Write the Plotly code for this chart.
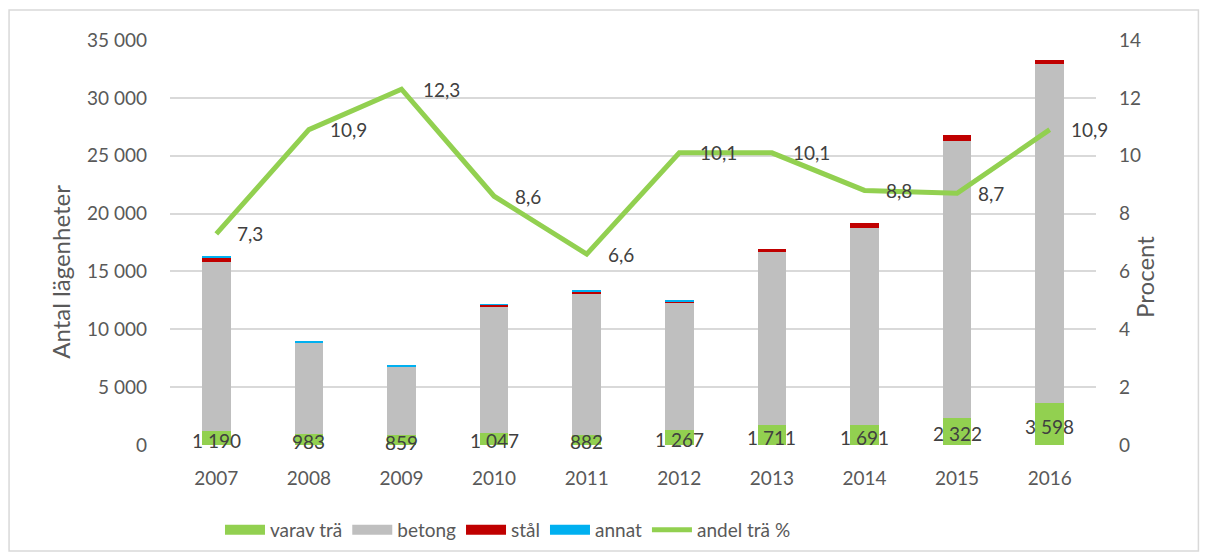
import plotly.graph_objects as go

years = [2007, 2008, 2009, 2010, 2011, 2012, 2013, 2014, 2015, 2016]
varav_tra = [1190, 983, 859, 1047, 882, 1267, 1711, 1691, 2322, 3598]
betong = [14660, 7890, 5950, 10950, 12220, 11020, 14930, 17030, 23970, 29330]
stal = [390, 0, 0, 110, 150, 110, 290, 500, 490, 320]
annat = [135, 110, 120, 20, 140, 120, 0, 0, 0, 0]
andel_tra = [7.3, 10.9, 12.3, 8.6, 6.6, 10.1, 10.1, 8.8, 8.7, 10.9]

FONT = "Lato, 'Open Sans', sans-serif"
TXT = "#595959"
LBL = "#404040"

bar_series = [
    ("varav trä", varav_tra, "#92d050"),
    ("betong", betong, "#bfbfbf"),
    ("stål", stal, "#c00000"),
    ("annat", annat, "#00b0f0"),
]

fig = go.Figure()
for name, vals, color in bar_series:
    fig.add_trace(go.Bar(x=years, y=vals, name=name, legendgroup=name, showlegend=False,
                         marker={"color": color, "line": {"width": 0}}, hoverinfo="y+name"))

# legend entries drawn as wide blocks, like the original
for name, _, color in bar_series:
    fig.add_trace(go.Scatter(x=[None], y=[None], mode="lines", name=name, legendgroup=name,
                             line={"color": color, "width": 14}))

fig.add_trace(
    go.Scatter(
        x=years,
        y=andel_tra,
        yaxis="y2",
        mode="lines",
        name="andel trä %",
        line={"color": "#92d050", "width": 5},
    )
)

# data labels for the wood segment
for yr, v in zip(years, varav_tra):
    fig.add_annotation(
        x=yr, y=v / 2, text=f"{v:,}".replace(",", " "), showarrow=False,
        yshift=-2, font={"size": 19, "color": LBL, "family": FONT},
    )

# data labels for the share line
for yr, v in zip(years, andel_tra):
    fig.add_annotation(
        x=yr, y=v, yref="y2", text=f"{v:.1f}".replace(".", ","), showarrow=False,
        xanchor="left", yanchor="middle", xshift=19,
        font={"size": 19, "color": LBL, "family": FONT},
    )

# axis titles, centred on the chart area like the original
fig.add_annotation(xref="paper", yref="paper", x=-0.137, y=0.427, text="Antal lägenheter", textangle=-90,
                   showarrow=False, font={"size": 24, "color": TXT, "family": FONT})
fig.add_annotation(xref="paper", yref="paper", x=1.0707, y=0.415, text="Procent", textangle=-90,
                   showarrow=False, font={"size": 24, "color": TXT, "family": FONT})

# outer chart border
fig.add_shape(type="rect", xref="paper", yref="paper", x0=-0.1738, x1=1.1106, y0=-0.2617, y1=1.074,
              line={"color": "#d9d9d9", "width": 1.5}, layer="below")

fig.update_layout(
    width=1192,
    height=544,
    barmode="stack",
    bargap=0.69,
    separators=", ",
    plot_bgcolor="white",
    paper_bgcolor="white",
    font={"family": FONT, "size": 19, "color": TXT},
    margin={"l": 162, "r": 104, "t": 32, "b": 107, "autoexpand": False},
    xaxis={"range": [years[0] - 0.5, years[-1] + 0.5], "tickvals": years, "ticktext": [str(y) for y in years],
           "showgrid": False, "ticks": "", "showline": False, "zeroline": False, "ticklabelstandoff": 20,
           "tickfont": {"size": 19, "color": TXT}},
    yaxis={"range": [0, 35000], "dtick": 5000, "tickformat": ",d", "gridcolor": "#d9d9d9", "gridwidth": 1.5,
           "zeroline": False, "ticklabelstandoff": 22, "tickfont": {"size": 19, "color": TXT}},
    yaxis2={"range": [0, 14], "dtick": 2, "overlaying": "y", "side": "right", "showgrid": False, "zeroline": False,
            "ticklabelstandoff": 22, "tickfont": {"size": 19, "color": TXT}},
    legend={"orientation": "h", "x": 0.365, "xanchor": "center", "y": -0.163, "yanchor": "top",
            "bgcolor": "rgba(0,0,0,0)",
            "font": {"size": 19, "color": TXT}, "traceorder": "normal", "itemwidth": 40},
)

fig.write_html("out.html")
